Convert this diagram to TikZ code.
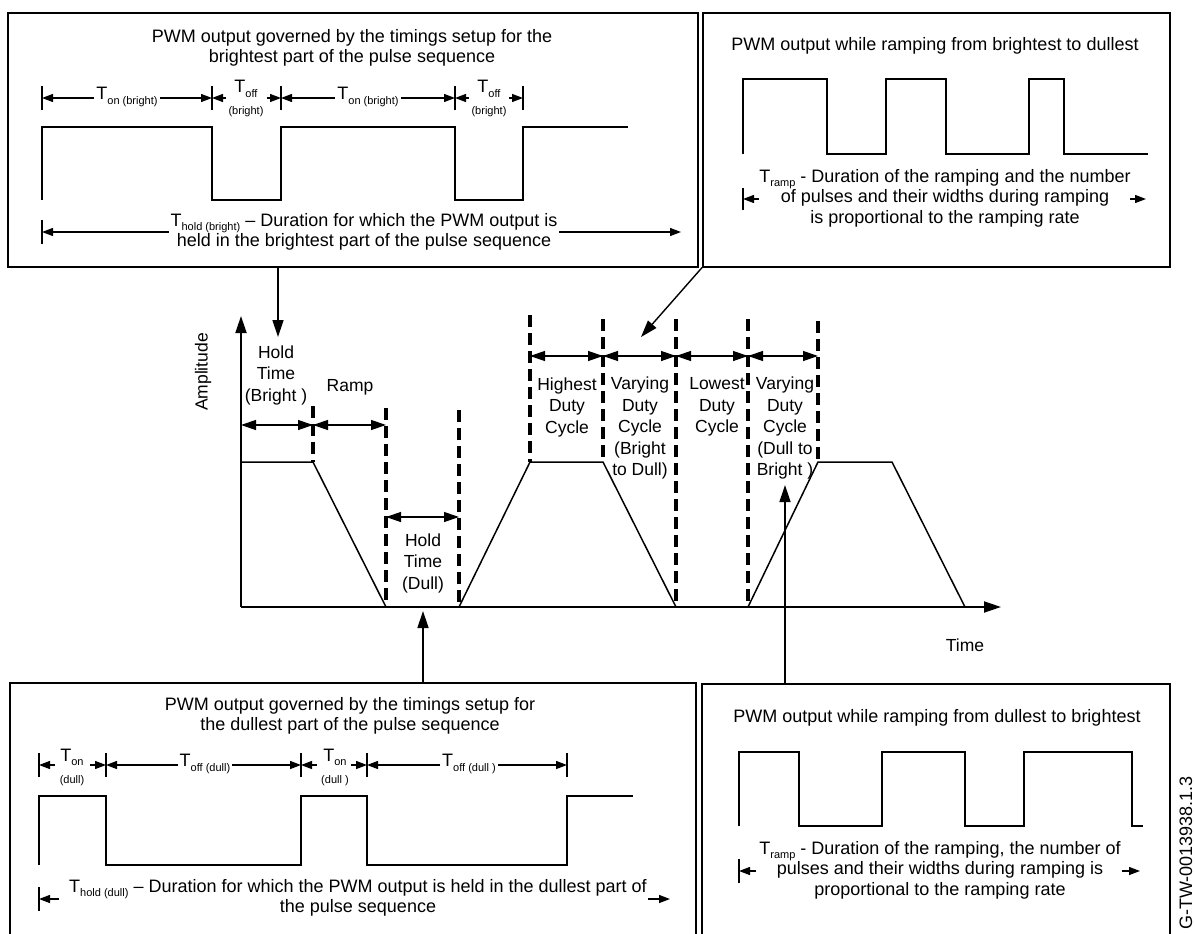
\documentclass[tikz,border=0pt]{standalone}
\usepackage{fontspec}
\setmainfont{Liberation Sans}
\usetikzlibrary{arrows.meta}
\newcommand\bxf{\fontsize{18}{20.5}\selectfont}
\newcommand\mdf{\fontsize{17.5}{21.5}\selectfont}
\newcommand\smf{\fontsize{11}{12}\selectfont}
\newcommand\sbs[1]{\raisebox{-0.45ex}{\smf #1}}
\begin{document}
\begin{tikzpicture}[x=1pt,y=-1pt,
 boxs/.style={draw,line width=1.6pt,inner sep=0pt},
 wave/.style={line width=1.6pt},
 dline/.style={line width=3.6pt,dash pattern=on 12pt off 6pt},
 dimar/.style={line width=1.3pt,{Triangle[length=15pt,width=10pt]}-{Triangle[length=15pt,width=10pt]}},
 sar/.style={line width=1.3pt,-{Triangle[length=11pt,width=8pt]}},
 sdim/.style={line width=1.3pt,{Triangle[length=11pt,width=8pt]}-{Triangle[length=11pt,width=8pt]}},
 tick/.style={line width=1.3pt},
 conn/.style={line width=1.4pt,-{Triangle[length=17pt,width=11pt]}},
 axis/.style={line width=1.8pt,-{Triangle[length=17pt,width=11pt]}},
 trap/.style={line width=1.5pt},
 lbl/.style={inner sep=0pt,align=center,font=\bxf},
 mlbl/.style={inner sep=0pt,align=center,font=\mdf},
 slbl/.style={inner sep=0pt,align=center,font=\smf},
 wlbl/.style={fill=white,inner sep=2pt,align=center,font=\bxf}]
\useasboundingbox (0,0) rectangle (1195,934);
\begin{scope}
\clip (0,0) rectangle (1195,934);
\fill[white] (0,0) rectangle (1195,934);

% ---------- boxes ----------
\node[boxs,anchor=north west,minimum width=690pt,minimum height=254pt] (tl) at (7,12) {};
\node[boxs,anchor=north west,minimum width=467pt,minimum height=254pt] (tr) at (702,12) {};
\node[boxs,anchor=north west,minimum width=686pt,minimum height=300pt] (bl) at (9,682) {};
\node[boxs,anchor=north west,minimum width=468pt,minimum height=300pt] (br) at (701,683) {};

% ---------- top-left box ----------
\node[lbl] (tlt) at (352,48) {PWM output governed by the timings setup for the\\brightest part of the pulse sequence};
\coordinate (ta1) at (42,98);
\coordinate (ta2) at (212,98);
\coordinate (ta3) at (281,98);
\coordinate (ta4) at (455,98);
\coordinate (ta5) at (523,98);
\foreach \i in {1,...,5} \draw[tick] ([yshift=-12pt]ta\i) -- ([yshift=12pt]ta\i);
\draw[sdim] (ta1) -- (ta2);
\node[wlbl] (ton1) at (127,97) {T\sbs{on (bright)}};
\draw[sar] ([xshift=14pt]ta2) -- (ta2);
\draw[sar] ([xshift=-14pt]ta3) -- (ta3);
\node[lbl] (toff1) at (246,89) {T\sbs{off}};
\node[slbl] (toff1b) at (246,112) {(bright)};
\draw[sdim] (ta3) -- (ta4);
\node[wlbl] (ton2) at (368,97) {T\sbs{on (bright)}};
\draw[sar] ([xshift=14pt]ta4) -- (ta4);
\draw[sar] ([xshift=-14pt]ta5) -- (ta5);
\node[lbl] (toff2) at (489,89) {T\sbs{off}};
\node[slbl] (toff2b) at (489,112) {(bright)};
\draw[wave] (42,200) -- (42,127) -- (212,127) -- (212,200) -- (281,200) -- (281,127) -- (455,127) -- (455,200) -- (523,200) -- (523,127) -- (628,127);
\coordinate (th0) at (42,232);
\coordinate (th1) at (681,232);
\draw[tick] ([yshift=-12pt]th0) -- ([yshift=12pt]th0);
\draw[sdim] (th0) -- (th1);
\node[wlbl] (thold1) at (364,232) {T\sbs{hold (bright)} -- Duration for which the PWM output is\\held in the brightest part of the pulse sequence};

% ---------- top-right box ----------
\node[lbl] (trt) at (935,46) {PWM output while ramping from brightest to dullest};
\draw[wave] (743,154) -- (743,79) -- (827,79) -- (827,154) -- (886,154) -- (886,79) -- (946,79) -- (946,154) -- (1029,154) -- (1029,79) -- (1064,79) -- (1064,154) -- (1148,154);
\node[lbl] (trd) at (945,198) {T\sbs{ramp} - Duration of the ramping and the number\\of pulses and their widths during ramping\\is proportional to the ramping rate};
\coordinate (tr0) at (743,199);
\coordinate (tr1) at (1146,199);
\draw[tick] ([yshift=-11pt]tr0) -- ([yshift=11pt]tr0);
\draw[sar] ([xshift=16pt]tr0) -- (tr0);
\draw[sar] ([xshift=-16pt]tr1) -- (tr1);

% ---------- bottom-left box ----------
\node[lbl] (blt) at (350,716) {PWM output governed by the timings setup for\\the dullest part of the pulse sequence};
\coordinate (ba1) at (39,765);
\coordinate (ba2) at (106,765);
\coordinate (ba3) at (301,765);
\coordinate (ba4) at (367,765);
\coordinate (ba5) at (567,765);
\foreach \i in {1,...,5} \draw[tick] ([yshift=-12pt]ba\i) -- ([yshift=12pt]ba\i);
\draw[sar] ([xshift=16pt]ba1) -- (ba1);
\draw[sar] ([xshift=-16pt]ba2) -- (ba2);
\node[lbl] (bon1) at (72,757) {T\sbs{on}};
\node[slbl] (bon1b) at (72,781) {(dull)};
\draw[sdim] (ba2) -- (ba3);
\node[wlbl] (boff1) at (205,764) {T\sbs{off (dull)}};
\draw[sar] ([xshift=16pt]ba3) -- (ba3);
\draw[sar] ([xshift=-16pt]ba4) -- (ba4);
\node[lbl] (bon2) at (335,757) {T\sbs{on}};
\node[slbl] (bon2b) at (335,781) {(dull )};
\draw[sdim] (ba4) -- (ba5);
\node[wlbl] (boff2) at (469,764) {T\sbs{off (dull )}};
\draw[wave] (39,865) -- (39,796) -- (106,796) -- (106,865) -- (301,865) -- (301,796) -- (367,796) -- (367,865) -- (567,865) -- (567,796) -- (633,796);
\coordinate (bh0) at (39,899);
\coordinate (bh1) at (670,899);
\draw[tick] ([yshift=-12pt]bh0) -- ([yshift=12pt]bh0);
\draw[sar] ([xshift=20pt]bh0) -- (bh0);
\draw[sar] ([xshift=-22pt]bh1) -- (bh1);
\node[lbl] (bhold) at (358,898) {T\sbs{hold (dull)} -- Duration for which the PWM output is held in the dullest part of\\the pulse sequence};

% ---------- bottom-right box ----------
\node[lbl] (brt) at (937,718) {PWM output while ramping from dullest to brightest};
\draw[wave] (739,826) -- (739,752) -- (799,752) -- (799,826) -- (882,826) -- (882,752) -- (965,752) -- (965,826) -- (1024,826) -- (1024,752) -- (1132,752) -- (1132,826) -- (1143,826);
\node[lbl] (brd) at (940,870) {T\sbs{ramp} - Duration of the ramping, the number of\\pulses and their widths during ramping is\\proportional to the ramping rate};
\coordinate (br0) at (739,871);
\coordinate (br1) at (1140,871);
\draw[tick] ([yshift=-12pt]br0) -- ([yshift=12pt]br0);
\draw[sar] ([xshift=17pt]br0) -- (br0);
\draw[sar] ([xshift=-18pt]br1) -- (br1);

% ---------- main chart ----------
\coordinate (O) at (241,607);
\coordinate (ytip) at (241,316);
\coordinate (xtip) at (1001,607);
\draw[axis] (O) -- (ytip);
\draw[axis] (O) -- (xtip);
\draw[trap] (241,462) -- (313,462) -- (386,607);
\draw[trap] (459,607) -- (530,462) -- (603,462) -- (676,607);
\draw[trap] (748,607) -- (818,462) -- (892,462) -- (965,607);
\draw[dline] (313,406) -- (313,462);
\draw[dline] (386,408) -- (386,607);
\draw[dline] (459,410) -- (459,607);
\draw[dline] (530,315) -- (530,462);
\draw[dline] (603,319) -- (603,462);
\draw[dline] (676,319) -- (676,607);
\draw[dline] (748,319) -- (748,607);
\draw[dline] (818,321) -- (818,462);
\draw[dimar] (241,425) -- (313,425);
\draw[dimar] (313,425) -- (386,425);
\draw[dimar] (386,517) -- (459,517);
\draw[dimar] (530,356) -- (603,356);
\draw[dimar] (603,356) -- (676,356);
\draw[dimar] (676,356) -- (748,356);
\draw[dimar] (748,356) -- (818,356);
\node[mlbl] (l1) at (276,375) {Hold\\Time\\(Bright )};
\node[mlbl] (l2) at (350,387) {Ramp};
\node[mlbl] (l3) at (423,563) {Hold\\Time\\(Dull)};
\node[mlbl] (l4) at (567,407) {Highest\\Duty\\Cycle};
\node[mlbl] (l5) at (640,428) {Varying\\Duty\\Cycle\\(Bright\\to Dull)};
\node[mlbl] (l6) at (717,407) {Lowest\\Duty\\Cycle};
\node[mlbl] (l7) at (785,428) {Varying\\Duty\\Cycle\\(Dull to\\Bright )};
\node[mlbl,rotate=90] (amp) at (203,372) {Amplitude};
\node[mlbl] (time) at (965,645) {Time};

% ---------- connectors ----------
\coordinate (a1) at (278,337);
\coordinate (a2) at (641,337);
\coordinate (a3) at (423,611);
\coordinate (a4) at (785,485);
\draw[conn] (a1 |- tl.south) -- (a1);
\draw[conn] (tr.south west) -- (a2);
\draw[conn] (a3 |- bl.north) -- (a3);
\draw[conn] (a4 |- br.north) -- (a4);

% ---------- side label ----------
\node[font=\fontsize{18}{21}\selectfont,rotate=90,anchor=base west,inner sep=0pt] (wm) at (1192,930) {G-TW-0013938.1.3};
\end{scope}
\end{tikzpicture}
\end{document}
